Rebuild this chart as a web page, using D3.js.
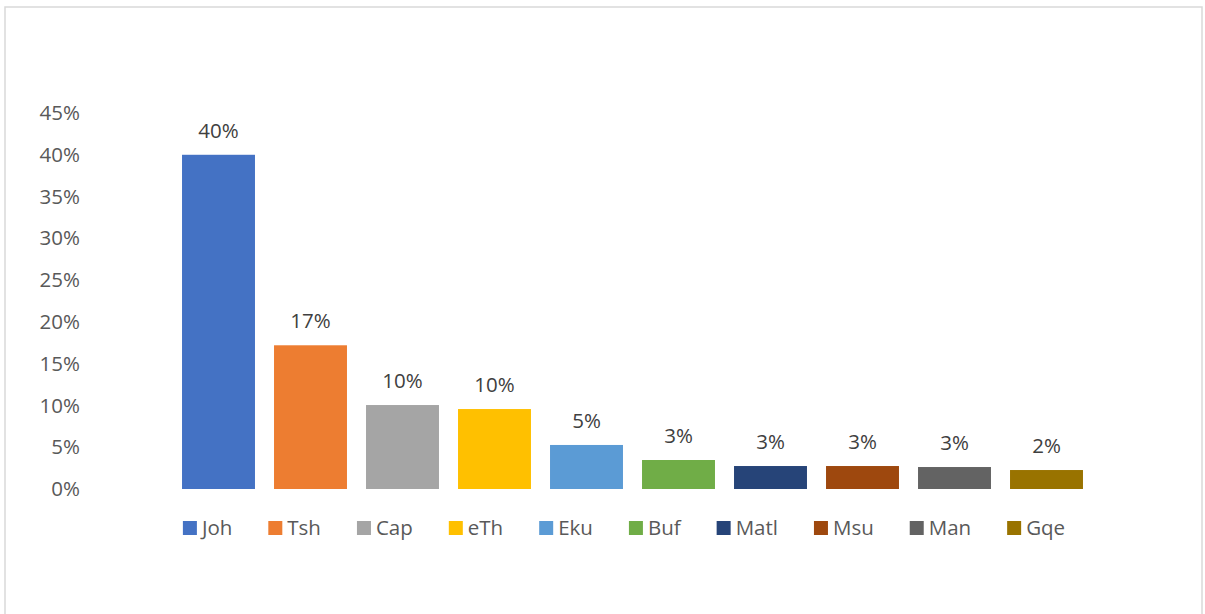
<!DOCTYPE html>
<html>
<head>
<meta charset="utf-8">
<script src="https://cdn.jsdelivr.net/npm/d3@7"></script>
<style>
    body { margin: 0; background: #fff; }
    text { font-family: 'Open Sans', 'Noto Sans', sans-serif; }
</style>
</head>
<body>
<script>
// chart data
var categories = ['Joh', 'Tsh', 'Cap', 'eTh', 'Eku', 'Buf', 'Matl', 'Msu', 'Man', 'Gqe'];
var values = [0.40, 0.172, 0.1005, 0.0957, 0.0527, 0.0347, 0.0275, 0.0275, 0.0263, 0.0227];
var colors = ['#4472C4', '#ED7D31', '#A5A5A5', '#FFC000', '#5B9BD5', '#70AD47', '#264478', '#9E480E', '#636363', '#997300'];
var yTicks = [0, 0.05, 0.10, 0.15, 0.20, 0.25, 0.30, 0.35, 0.40, 0.45];

var w = 1205, h = 614;
var fontSize = '20.5px';

var svg = d3.select('body')
    .append('svg')
    .attr('width', w)
    .attr('height', h);

// chart area border
svg.append('rect')
    .attr('x', 5)
    .attr('y', 7)
    .attr('width', 1197)
    .attr('height', 620)
    .style('fill', '#fff')
    .style('stroke', '#d9d9d9')
    .style('stroke-width', 1.5);

var x = d3.scaleBand()
    .domain(categories)
    .range([172.5, 1092.5])
    .paddingInner(0.207)
    .paddingOuter(0.1035);

var y = d3.scaleLinear()
    .domain([0, 0.45])
    .range([489, 113]);

var pct = d3.format('.0%');

// y axis labels (no line, no ticks)
var yAxis = d3.axisLeft(y)
    .tickValues(yTicks)
    .tickFormat(pct)
    .tickSize(0)
    .tickPadding(0);

var axis = svg.append('g')
    .attr('class', 'axis')
    .attr('transform', 'translate(80, 0)')
    .call(yAxis);

axis.select('.domain').remove();
axis.selectAll('text')
    .style('font-family', "'Open Sans', 'Noto Sans', sans-serif")
    .style('font-size', fontSize)
    .style('fill', '#595959');

// bars
svg.selectAll('.bar')
    .data(values)
    .enter()
    .append('rect')
    .attr('class', 'bar')
    .attr('x', function(d, i) {
        return x(categories[i]);
    })
    .attr('y', function(d) {
        return y(d);
    })
    .attr('width', x.bandwidth())
    .attr('height', function(d) {
        return y(0) - y(d);
    })
    .style('fill', function(d, i) {
        return colors[i];
    });

// value labels
svg.selectAll('.label')
    .data(values)
    .enter()
    .append('text')
    .attr('class', 'label')
    .attr('text-anchor', 'middle')
    .attr('x', function(d, i) {
        return x(categories[i]) + x.bandwidth() / 2;
    })
    .attr('y', function(d) {
        return y(d) - 17;
    })
    .style('font-size', fontSize)
    .style('fill', '#404040')
    .text(function(d) {
        return pct(d);
    });

// legend
var legend = svg.append('g').attr('class', 'legend');
var lx = 0;
categories.forEach(function(c, i) {
    var item = legend.append('g').attr('transform', 'translate(' + lx + ',0)');
    item.append('rect')
        .attr('x', 0)
        .attr('y', -7)
        .attr('width', 14)
        .attr('height', 14)
        .style('fill', colors[i]);
    var t = item.append('text')
        .attr('x', 19)
        .attr('y', 0)
        .attr('dy', '0.35em')
        .style('font-size', fontSize)
        .style('fill', '#595959')
        .text(c);
    lx += 19 + t.node().getComputedTextLength() + 36;
});
var legendWidth = lx - 36;
legend.attr('transform', 'translate(' + (624 - legendWidth / 2) + ',528)');
</script>
</body>
</html>
